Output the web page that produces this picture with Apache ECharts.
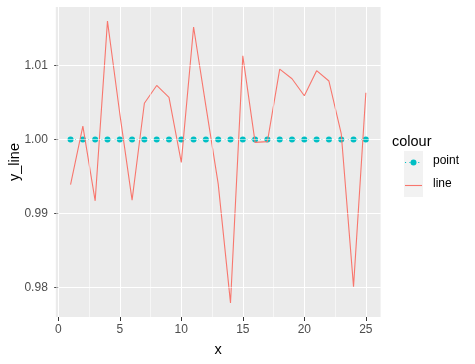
<!DOCTYPE html>
<html><head><meta charset="utf-8">
<script src="https://cdn.jsdelivr.net/npm/echarts@6/dist/echarts.min.js"></script>
<style>html,body{margin:0;padding:0;background:#fff}#c{width:475px;height:364px}</style>
</head><body><div id="c"></div>
<script>
const xValues = [1,2,3,4,5,6,7,8,9,10,11,12,13,14,15,16,17,18,19,20,21,22,23,24,25];
const lineValues = [0.9939,1.0018,0.9917,1.0160,1.0035,0.9918,1.0049,1.0073,1.0057,0.9969,
  1.0152,1.0045,0.9940,0.9779,1.0113,0.9996,0.9997,1.0095,1.0082,1.0059,1.0093,1.0079,1.0008,0.9801,1.0063];
const pointValues = [1,1,1,1,1,1,1,1,1,1,1,1,1,1,1,1,1,1,1,1,1,1,1,1,1];
const xTicks = [0,5,10,15,20,25];
const yTicks = [0.98,0.99,1.00,1.01];
const xMinor = [2.5,7.5,12.5,17.5,22.5];
const yMinor = [0.985,0.995,1.005,1.015];
const legendLabels = ['point','line'];

const allY = lineValues.concat(pointValues);
const yLo = Math.min(...allY), yHi = Math.max(...allY);
const xLo = Math.min(...xValues), xHi = Math.max(...xValues);
const yPad = (yHi - yLo) * 0.05, xPad = (xHi - xLo) * 0.05;

const RED = '#F8766D', CYAN = '#00BFC4';
const chart = echarts.init(document.getElementById('c'), null, {renderer:'canvas'});
const fontFam = '"Liberation Sans", Arial, sans-serif';

const gridLines = [];
xMinor.forEach(v => gridLines.push({xAxis: v}));
yMinor.forEach(v => gridLines.push({yAxis: v}));

chart.setOption({
  animation: false,
  textStyle: {fontFamily: fontFam},
  grid: {left: 55.8, top: 7, width: 324.8, height: 310, show: true, backgroundColor: '#EBEBEB', borderWidth: 0,
         containLabel: false, outerBoundsMode: 'none'},
  xAxis: {
    type: 'value', min: xLo - xPad, max: xHi + xPad,
    name: 'x', nameLocation: 'middle', nameGap: 25, nameMoveOverlap: false,
    nameTextStyle: {fontSize: 14.5, color: '#000', fontFamily: fontFam},
    axisLine: {show: false},
    axisTick: {show: true, length: 4, lineStyle: {color: '#333', width: 1}, customValues: xTicks},
    axisLabel: {customValues: xTicks, color: '#4D4D4D', fontSize: 12, margin: 7, fontFamily: fontFam},
    splitLine: {show: true, lineStyle: {color: '#fff', width: 1}},
    minorSplitLine: {show: false}
  },
  yAxis: {
    type: 'value', min: yLo - yPad, max: yHi + yPad,
    name: 'y_line', nameLocation: 'middle', nameGap: 33, nameRotate: 90, nameMoveOverlap: false,
    nameTextStyle: {fontSize: 14.5, color: '#000', fontFamily: fontFam},
    axisLine: {show: false},
    axisTick: {show: true, length: 4, lineStyle: {color: '#333', width: 1}, customValues: yTicks},
    axisLabel: {customValues: yTicks, color: '#4D4D4D', fontSize: 12, margin: 8, fontFamily: fontFam,
      formatter: v => v.toFixed(2)},
    splitLine: {show: true, lineStyle: {color: '#fff', width: 1}}
  },
  series: [
    {type: 'line', data: [], silent: true, z: 1,
     markLine: {symbol: 'none', silent: true, label: {show: false}, animation: false,
       lineStyle: {color: '#fff', type: 'solid', width: 0.55}, data: gridLines}},
    {name: 'point', type: 'line', data: xValues.map((x,i)=>[x, pointValues[i]]),
     symbol: 'circle', symbolSize: 6, showSymbol: true,
     itemStyle: {color: CYAN, borderWidth: 0},
     lineStyle: {color: CYAN, width: 1.1, type: [1.1, 3.3]}, z: 3},
    {name: 'line', type: 'line', data: xValues.map((x,i)=>[x, lineValues[i]]),
     symbol: 'none', lineStyle: {color: RED, width: 1.1}, z: 4}
  ],
  graphic: [
    {type: 'text', left: 392, top: 134, style: {text: 'colour', font: '14.5px ' + fontFam, fill: '#000'}},
    {type: 'rect', shape: {x: 404, y: 151, width: 19, height: 23}, style: {fill: '#F2F2F2'}},
    {type: 'rect', shape: {x: 404, y: 174, width: 19, height: 23}, style: {fill: '#F2F2F2'}},
    {type: 'line', shape: {x1: 405, y1: 162.5, x2: 422, y2: 162.5}, style: {stroke: CYAN, lineWidth: 1.1, lineDash: [1.1, 3.3]}},
    {type: 'circle', shape: {cx: 413.5, cy: 162.5, r: 3}, style: {fill: CYAN}},
    {type: 'line', shape: {x1: 405, y1: 185.5, x2: 422, y2: 185.5}, style: {stroke: RED, lineWidth: 1.1}},
    {type: 'text', left: 433, top: 155, style: {text: legendLabels[0], font: '12px ' + fontFam, fill: '#000'}},
    {type: 'text', left: 433, top: 178, style: {text: legendLabels[1], font: '12px ' + fontFam, fill: '#000'}}
  ]
});
</script></body></html>
